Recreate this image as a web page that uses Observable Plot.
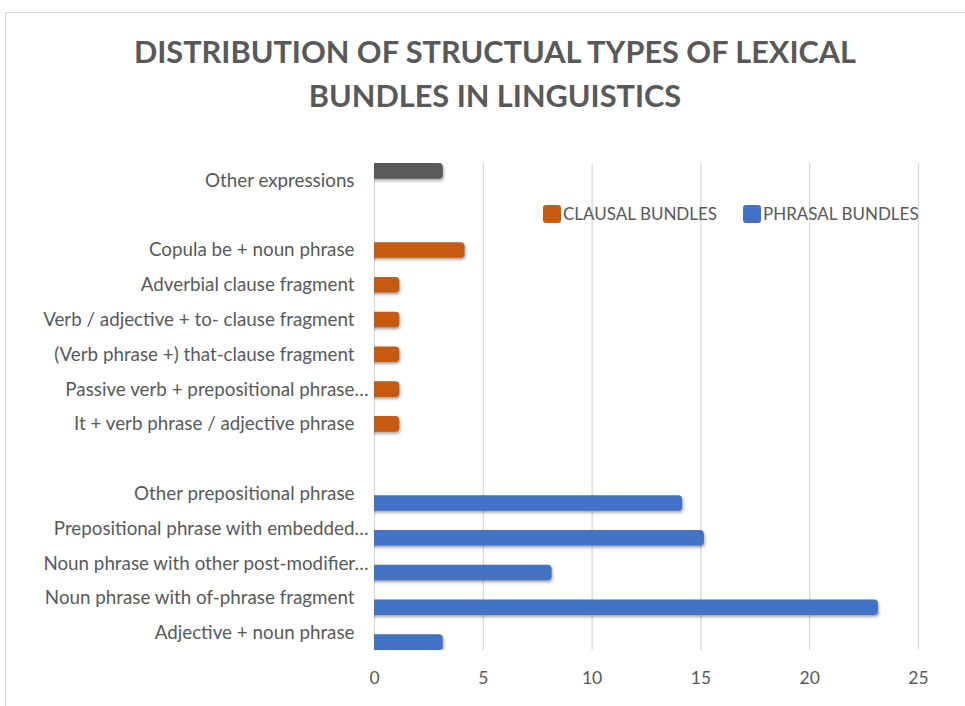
<!DOCTYPE html>
<html>
<head>
<meta charset="utf-8">
<script src="https://cdn.jsdelivr.net/npm/d3@7"></script>
<script src="https://cdn.jsdelivr.net/npm/@observablehq/plot@0.6"></script>
<style>
  html, body { margin: 0; padding: 0; background: #fff; overflow: hidden; width: 965px; height: 706px; }
  #frame { position: absolute; left: 5px; top: 12px; width: 990px; height: 720px; border: 1.5px solid #d9d9d9; box-sizing: border-box; pointer-events: none; }
  #title { position: absolute; left: 0; top: 30px; width: 990px; text-align: center; font-family: Lato, "Open Sans", sans-serif; font-weight: 700; font-size: 30.7px; line-height: 44px; color: #595959; }
  #chart { position: absolute; left: 0; top: 130px; }
  .legend-item { position: absolute; top: 203px; display: flex; align-items: center; font-family: Lato, sans-serif; font-size: 17px; color: #595959; }
  .legend-item .sw { width: 18px; height: 18px; border-radius: 3px; margin-right: 2px; }
  #chart svg g[aria-label="bar"] rect { filter: drop-shadow(1.5px 2.5px 1.5px rgba(0,0,0,0.35)); }
</style>
</head>
<body>
<div id="frame"></div>
<div id="title">DISTRIBUTION OF STRUCTUAL TYPES OF LEXICAL<br>BUNDLES IN LINGUISTICS</div>
<div id="chart"></div>
<div id="legend"></div>
<script>
// Row order from top to bottom (blank rows are spacers in the original chart)
const rowOrder = [
  "Other expressions",
  " ",
  "Copula be + noun phrase",
  "Adverbial clause fragment",
  "Verb / adjective + to- clause fragment",
  "(Verb phrase +) that-clause fragment",
  "Passive verb + prepositional phrase…",
  "It + verb phrase / adjective phrase",
  "  ",
  "Other prepositional phrase",
  "Prepositional phrase with embedded…",
  "Noun phrase with other post-modifier…",
  "Noun phrase with of-phrase fragment",
  "Adjective + noun phrase"
];

const otherCategories = ["Other expressions"];
const otherValues = [3];

const clausalCategories = [
  "Copula be + noun phrase",
  "Adverbial clause fragment",
  "Verb / adjective + to- clause fragment",
  "(Verb phrase +) that-clause fragment",
  "Passive verb + prepositional phrase…",
  "It + verb phrase / adjective phrase"
];
const clausalValues = [4, 1, 1, 1, 1, 1];

const phrasalCategories = [
  "Other prepositional phrase",
  "Prepositional phrase with embedded…",
  "Noun phrase with other post-modifier…",
  "Noun phrase with of-phrase fragment",
  "Adjective + noun phrase"
];
const phrasalValues = [14, 15, 8, 23, 3];

const xTicks = [0, 5, 10, 15, 20, 25];
const seriesNames = ["CLAUSAL BUNDLES", "PHRASAL BUNDLES"];
const colors = { other: "#595959", clausal: "#C55A11", phrasal: "#4472C4" };

const toRows = (cats, vals) => cats.map((c, i) => ({ category: c, value: vals[i] }));
const otherData = toRows(otherCategories, otherValues);
const clausalData = toRows(clausalCategories, clausalValues);
const phrasalData = toRows(phrasalCategories, phrasalValues);

// Excel-style truncated labels (ending in an ellipsis) sit a bit further right
const truncatedLabels = rowOrder.filter(d => d.endsWith("…"));
const plainLabels = rowOrder.filter(d => !d.endsWith("…") && d.trim() !== "");

const barOpts = { x: "value", y: "category", insetTop: 9.6, insetBottom: 9.6, insetLeft: -6, insetRight: -3.5, rx: 4, clip: true };

const chart = Plot.plot({
  width: 965,
  height: 576,
  marginLeft: 374,
  marginRight: 47,
  marginTop: 33,
  marginBottom: 56,
  style: { fontFamily: "Lato, sans-serif", color: "#595959", background: "transparent" },
  x: { domain: [0, 25] },
  y: { type: "band", domain: rowOrder, padding: 0, round: false },
  marks: [
    Plot.gridX(xTicks, { stroke: "#d9d9d9", strokeOpacity: 1, strokeWidth: 1.3 }),
    Plot.barX(otherData, { ...barOpts, fill: colors.other, dy: -9.5 }),
    Plot.barX(clausalData, { ...barOpts, fill: colors.clausal, dy: 0 }),
    Plot.barX(phrasalData, { ...barOpts, fill: colors.phrasal, dy: 9.5 }),
    Plot.axisY({ ticks: plainLabels, tickSize: 0, tickPadding: 20, fontSize: 18.8, label: null }),
    Plot.axisY({ ticks: truncatedLabels, tickSize: 0, tickPadding: 6, fontSize: 18.8, label: null }),
    Plot.axisX({ ticks: xTicks, tickSize: 0, tickPadding: 21, fontSize: 17.5, label: null })
  ]
});
document.getElementById("chart").appendChild(chart);

const legend = document.getElementById("legend");
const legendColors = [colors.clausal, colors.phrasal];
const legendLeft = [543, 743];
seriesNames.forEach((name, i) => {
  const item = document.createElement("div");
  item.className = "legend-item";
  item.style.left = legendLeft[i] + "px";
  const sw = document.createElement("span");
  sw.className = "sw";
  sw.style.background = legendColors[i];
  const t = document.createElement("span");
  t.textContent = name;
  item.appendChild(sw);
  item.appendChild(t);
  legend.appendChild(item);
});
</script>
</body>
</html>
